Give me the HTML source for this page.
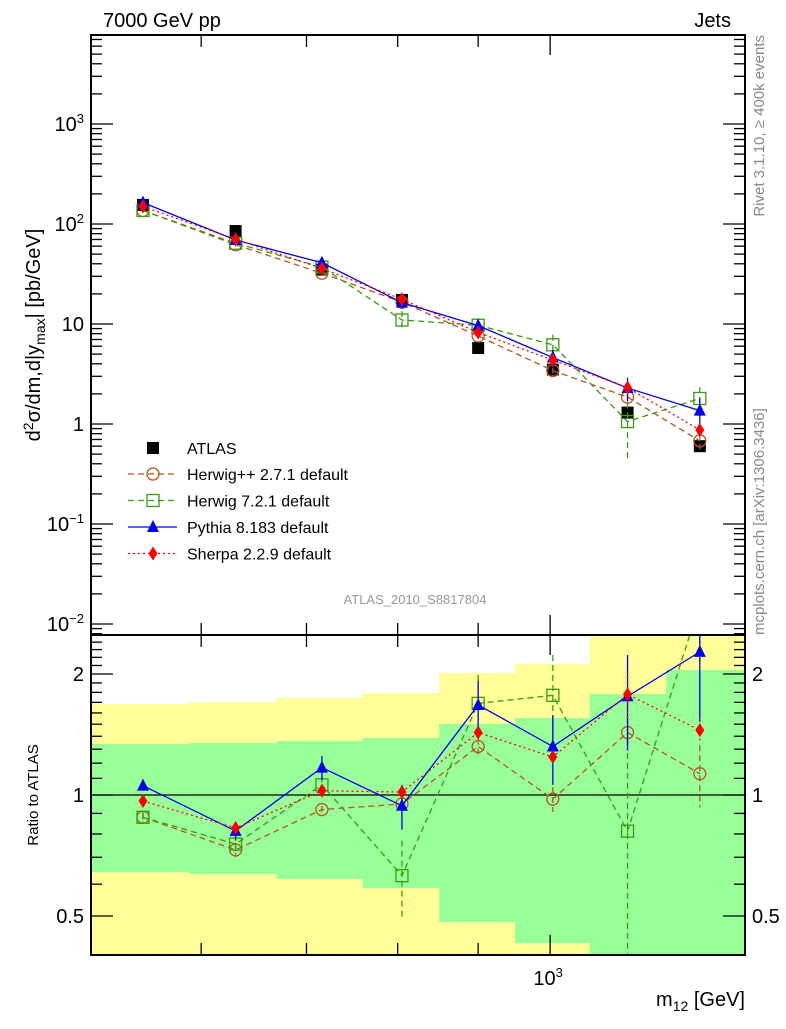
<!DOCTYPE html>
<html><head><meta charset="utf-8"><style>
body{margin:0;background:#fff}
svg text{font-family:"Liberation Sans",sans-serif}
</style></head><body>
<svg id="c" width="786" height="1024" viewBox="0 0 786 1024" xmlns="http://www.w3.org/2000/svg">
<defs>
<clipPath id="cm"><rect x="91" y="35" width="654" height="600"/></clipPath>
<clipPath id="cr"><rect x="91" y="635" width="654" height="320"/></clipPath>
</defs>
<g id="bands" clip-path="url(#cr)"></g>
<g id="grid"></g>
<g id="mainMarks" clip-path="url(#cm)"></g>
<g id="ratioMarks" clip-path="url(#cr)"></g>
<g id="axes"></g>
<text x="103" y="27" font-size="20">7000 GeV pp</text>
<text x="731" y="27" font-size="20" text-anchor="end">Jets</text>
<text transform="translate(764,35) rotate(-90)" font-size="15" fill="#888" text-anchor="end">Rivet 3.1.10, ≥ 400k events</text>
<text transform="translate(764,635) rotate(-90)" font-size="15" fill="#888">mcplots.cern.ch [arXiv:1306.3436]</text>
<text x="415" y="604" font-size="13" fill="#999" text-anchor="middle">ATLAS_2010_S8817804</text>
<text transform="translate(40,335) rotate(-90)" font-size="20" text-anchor="middle">d<tspan dy="-7" font-size="14">2</tspan><tspan dy="7">σ/dm,d|y</tspan><tspan dy="5" font-size="14">max</tspan><tspan dy="-5">| [pb/GeV]</tspan></text>
<text transform="translate(38,795) rotate(-90)" font-size="15" text-anchor="middle">Ratio to ATLAS</text>
<text x="745" y="1006" font-size="20" text-anchor="end">m<tspan dy="5" font-size="14">12</tspan><tspan dy="-5"> [GeV]</tspan></text>
<g id="legend"></g>
</svg>
<script>
const edges=[510,590,670,760,850,950,1060,1185,1340];
const mass=[551,631,716,805,900,1004,1120,1245];
const atlas=[155,85,35,17.4,5.75,3.5,1.3,0.6];
const bandGreenHi=[1.339,1.347,1.362,1.386,1.502,1.554,1.783,2.046];
const bandGreenLo=[0.643,0.636,0.618,0.587,0.483,0.428,0.3,0.3];
const bandYellowHi=[1.685,1.70,1.743,1.793,2.01,2.12,2.8,2.8];
const bandYellowLo=[0.3,0.3,0.3,0.3,0.3,0.3,0.3,0.3];
const herwigppRatio=[0.88,0.73,0.92,0.95,1.32,0.977,1.43,1.13];
const herwigppErr=[0.02,0.03,0.02,0.03,0.06,0.07,0.12,0.2];
const herwig7Ratio=[0.88,0.755,1.06,0.63,1.69,1.77,0.813,3.0];
const herwig7Err=[0.03,0.04,0.05,0.14,0.3,0.46,0.46,0.9];
const pythiaRatio=[1.055,0.814,1.17,0.94,1.675,1.32,1.76,2.27];
const pythiaErr=[0.03,0.04,0.08,0.12,0.25,0.26,0.47,0.75];
const sherpaRatio=[0.966,0.828,1.025,1.017,1.43,1.243,1.78,1.45];
const sherpaErr=[0.02,0.02,0.02,0.03,0.05,0.05,0.25,0.1];
const yMainTicks=[0.01,0.1,1,10,100,1000];
const yMainLabels=["10^-2","10^-1","1","10","10^2","10^3"];
const yRatioTicks=[0.5,1,2];
const yRatioLabels=["0.5","1","2"];

const X0=91,X1=745,LMIN=2.7081,LMAX=3.1239;
const sx=m=>X0+(Math.log10(m)-LMIN)/(LMAX-LMIN)*(X1-X0);
const sy=v=>424-100*Math.log10(v);
const sr=r=>795-402*Math.log10(r);
const NS="http://www.w3.org/2000/svg";
function mk(tag,attrs,parent){const e=document.createElementNS(NS,tag);for(const k in attrs)e.setAttribute(k,attrs[k]);parent.appendChild(e);return e;}
const bands=document.getElementById('bands'),grid=document.getElementById('grid'),axes=document.getElementById('axes');
const mm=document.getElementById('mainMarks'),rm=document.getElementById('ratioMarks');

for(let i=0;i<mass.length;i++){
  const xa=sx(edges[i]),xb=sx(edges[i+1]);
  let r=mk('rect',{x:xa,y:sr(bandYellowHi[i]),width:xb-xa+0.5,height:sr(bandYellowLo[i])-sr(bandYellowHi[i]),fill:'#ffff99'},bands);
  
  
  r=mk('rect',{x:xa,y:sr(bandGreenHi[i]),width:xb-xa+0.5,height:sr(bandGreenLo[i])-sr(bandGreenHi[i]),fill:'#99ff99'},bands);
  
  
}
let l1=mk('line',{x1:X0,x2:X1,y1:sr(1),y2:sr(1),stroke:'#000','stroke-width':1.3},grid);



for(const [y0,h,nm] of [[35,600,'main-frame'],[635,320,'ratio-frame']]){
  const f=mk('rect',{x:X0,y:y0,width:X1-X0,height:h,fill:'none',stroke:'#000','stroke-width':2},axes);
  
  
}
for(const m of [600,700,800,900,1000]){
  const x=sx(m),L=m===1000?20:12;
  for(const [ya,d] of [[35,1],[635,-1],[635,1],[955,-1]]){
    mk('line',{x1:x,x2:x,y1:ya,y2:ya+d*L,stroke:'#000','stroke-width':1.3},axes);
  }
}
const xl=mk('text',{x:sx(1000)-2,y:985,'font-size':20,'text-anchor':'middle'},axes);


xl.innerHTML='10<tspan dy="-8" font-size="13">3</tspan>';
for(let d=-3;d<=3;d++)for(let k=1;k<10;k++){
  const v=k*Math.pow(10,d),y=sy(v);if(y<35||y>635)continue;
  const L=k===1?22:11;
  mk('line',{x1:X0,x2:X0+L,y1:y,y2:y,stroke:'#000','stroke-width':1.3},axes);
  mk('line',{x1:X1,x2:X1-L,y1:y,y2:y,stroke:'#000','stroke-width':1.3},axes);
}
yMainTicks.forEach((v,i)=>{
  const t=mk('text',{x:84,y:sy(v)+7,'font-size':20,'text-anchor':'end'},axes);
  
  
  const lab=yMainLabels[i];
  if(lab.indexOf('^')>=0){t.innerHTML='10<tspan dy="-8" font-size="13">'+lab.split('^')[1].replace('-','−')+'</tspan>';}
  else t.textContent=lab;
});
for(const v of [0.4,0.5,0.6,0.7,0.8,0.9,1,1.1,1.2,1.3,1.4,1.5,1.6,1.7,1.8,1.9,2,2.1,2.2,2.3,2.4]){
  const y=sr(v);const L=(v===0.5||v===1||v===2)?22:11;
  mk('line',{x1:X0,x2:X0+L,y1:y,y2:y,stroke:'#000','stroke-width':1.3},axes);
  mk('line',{x1:X1,x2:X1-L,y1:y,y2:y,stroke:'#000','stroke-width':1.3},axes);
}
yRatioTicks.forEach((v,i)=>{
  for(const [x,a] of [[84,'end'],[752,'start']]){
    const t=mk('text',{x:x,y:sr(v)+7,'font-size':20,'text-anchor':a},axes);
    
    
    t.textContent=yRatioLabels[i];
  }
});

function marker(g,type,x,y,col){
  let e;
  if(type==='circle')e=mk('circle',{cx:x,cy:y,r:6,fill:'none',stroke:col,'stroke-width':1.3},g);
  else if(type==='square')e=mk('rect',{x:x-6,y:y-6,width:12,height:12,fill:'none',stroke:col,'stroke-width':1.3},g);
  else if(type==='tri')e=mk('polygon',{points:`${x},${y-7} ${x-6},${y+5} ${x+6},${y+5}`,fill:col},g);
  else if(type==='diamond')e=mk('polygon',{points:`${x},${y-7} ${x-4.5},${y} ${x},${y+7} ${x+4.5},${y}`,fill:col},g);
  else e=mk('rect',{x:x-6,y:y-6,width:12,height:12,fill:col},g);
  return e;
}
const series=[
 {name:'herwigpp',r:herwigppRatio,e:herwigppErr,col:'#b5561b',dash:'6,4',m:'circle',label:'Herwig++ 2.7.1 default'},
 {name:'herwig7',r:herwig7Ratio,e:herwig7Err,col:'#3a9a10',dash:'6,4',m:'square',label:'Herwig 7.2.1 default'},
 {name:'pythia',r:pythiaRatio,e:pythiaErr,col:'#0000ee',dash:'',m:'tri',label:'Pythia 8.183 default'},
 {name:'sherpa',r:sherpaRatio,e:sherpaErr,col:'#ff0000',dash:'2,3',m:'diamond',label:'Sherpa 2.2.9 default'}
];
atlas.forEach((v,i)=>{
  const p=marker(mm,'sq',sx(mass[i]),sy(v),'#000');
  
  
});
for(const s of series){
  for(const [g,fy,isMain] of [[mm,(i)=>sy(atlas[i]*s.r[i]),true],[rm,(i)=>sr(s.r[i]),false]]){
    const pts=mass.map((m,i)=>sx(m)+','+fy(i)).join(' ');
    const pl=mk('polyline',{points:pts,fill:'none',stroke:s.col,'stroke-width':1.3,'stroke-dasharray':s.dash},g);
    
    
    mass.forEach((m,i)=>{
      const x=sx(m);
      const hi=isMain?sy(atlas[i]*(s.r[i]+s.e[i])):sr(s.r[i]+s.e[i]);
      const lo=isMain?sy(atlas[i]*Math.max(s.r[i]-s.e[i],0.05)):sr(Math.max(s.r[i]-s.e[i],0.05));
      const eb=mk('line',{x1:x,x2:x,y1:hi,y2:lo,stroke:s.col,'stroke-width':1.3,'stroke-dasharray':s.dash},g);
      
      
      const p=marker(g,s.m,x,fy(i),s.col);
      
      
    });
  }
}
const lg=document.getElementById('legend');
const a0=marker(lg,'sq',153,448,'#000');


let t0=mk('text',{x:187,y:454,'font-size':16},lg);


t0.textContent='ATLAS';
series.forEach((s,k)=>{
  const y=474+k*26.5;
  const ln=mk('line',{x1:128,x2:177,y1:y,y2:y,stroke:s.col,'stroke-width':1.3,'stroke-dasharray':s.dash},lg);
  
  
  marker(lg,s.m,153,y,s.col);
  const t=mk('text',{x:187,y:y+6,'font-size':16},lg);
  
  
  t.textContent=s.label;
});
</script>
</body></html>
